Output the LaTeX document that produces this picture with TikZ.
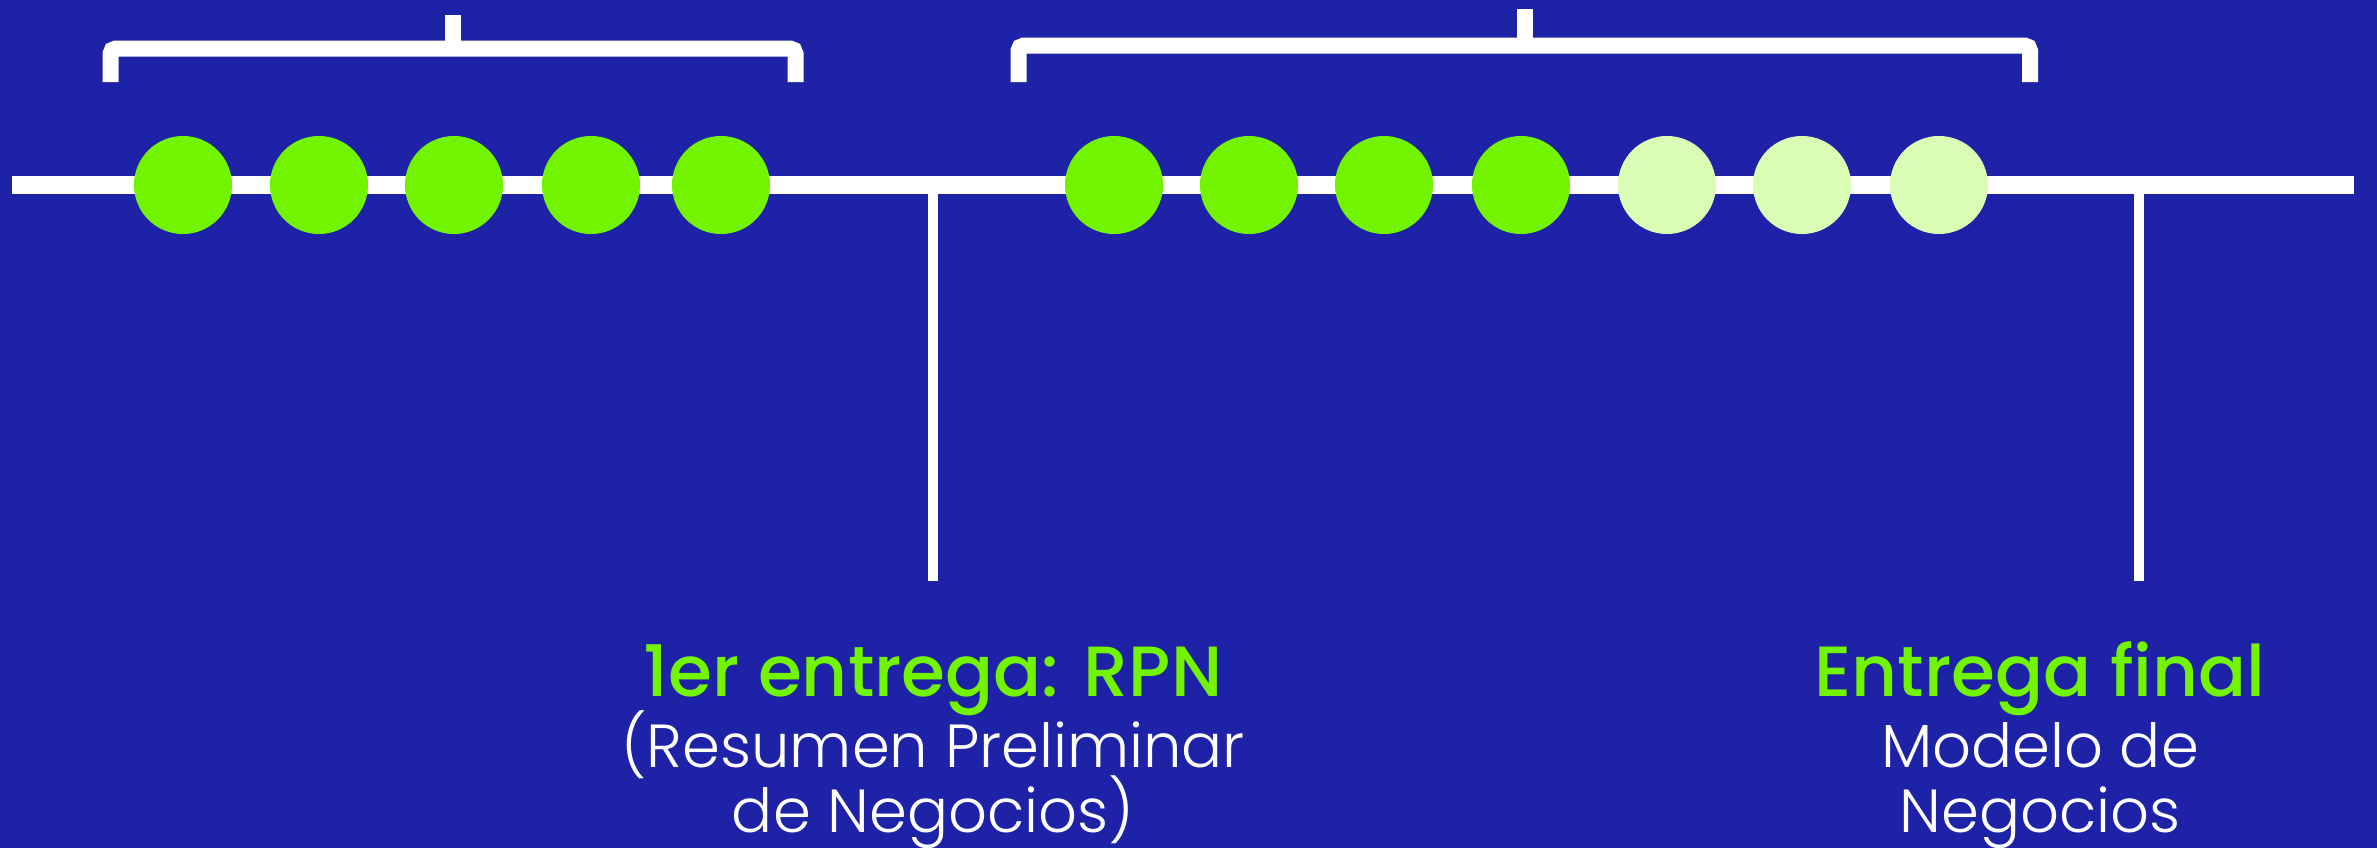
\documentclass[tikz,border=0pt]{standalone}
\usepackage{fontspec}
\setmainfont{Poppins}[UprightFont={* Light},BoldFont={* Medium}]
\definecolor{fondo}{RGB}{30,34,166}
\definecolor{verde}{RGB}{114,243,0}
\definecolor{verdeclaro}{RGB}{218,253,182}

\begin{document}
\begin{tikzpicture}[x=0.01cm,y=-0.01cm]

    \fill[fondo] (0,0) rectangle (2377,848);
    \useasboundingbox (0,0) rectangle (2377,848);

        \coordinate (ini) at (12,185);
        \coordinate (fin) at (2354,185);
        \coordinate (m1) at (933,185);
        \coordinate (m1b) at (933,581);
        \coordinate (m2) at (2139,185);
        \coordinate (m2b) at (2139,581);

        \begin{scope}[every edge/.style={draw=white,line width=5pt}]
            \path [-] (ini) edge node {} (fin);
            \path [-] (m1) edge [line width=2.85pt] node {} (m1b);
            \path [-] (m2) edge [line width=2.85pt] node {} (m2b);
        \end{scope}

        % llaves
        \coordinate (l1a) at (110.5,82);
        \coordinate (l1m) at (453,48.5);
        \coordinate (l1p) at (453,15);
        \coordinate (l1b) at (795.5,82);
        \coordinate (l2a) at (1018.5,82);
        \coordinate (l2m) at (1525,45.5);
        \coordinate (l2p) at (1525,9);
        \coordinate (l2b) at (2030,82);
        \begin{scope}[white,line width=4.55pt]
            \draw [rounded corners=1.5pt] (l1a) |- (l1m) -| (l1b);
            \draw (l1m) -- (l1p);
            \draw [rounded corners=1.5pt] (l2a) |- (l2m) -| (l2b);
            \draw (l2m) -- (l2p);
        \end{scope}

        \begin{scope}[every node/.style={circle,fill=verde,minimum size=0.98cm,inner sep=0pt}]
            \node (c1) at (183,185) {};
            \node (c2) at (319,185) {};
            \node (c3) at (454,185) {};
            \node (c4) at (591,185) {};
            \node (c5) at (721,185) {};
            \node (c6) at (1114,185) {};
            \node (c7) at (1249,185) {};
            \node (c8) at (1384,185) {};
            \node (c9) at (1521,185) {};
            \node [fill=verdeclaro] (c10) at (1667,185) {};
            \node [fill=verdeclaro] (c11) at (1802,185) {};
            \node [fill=verdeclaro] (c12) at (1939,185) {};
        \end{scope}

        \begin{scope}[every node/.style={anchor=base,inner sep=0pt,text=white,font=\fontsize{17.3}{20}\selectfont}]
            \node [text=verde,font=\fontsize{20.2}{24}\selectfont\bfseries] (e1) at (933,696) {1er entrega: RPN};
            \node (e1a) at (933,767) {(Resumen Preliminar};
            \node (e1b) at (933,832) {de Negocios)};
            \node [text=verde,font=\fontsize{20.2}{24}\selectfont\bfseries] (e2) at (2040,696) {Entrega final};
            \node (e2a) at (2040,767) {Modelo de};
            \node (e2b) at (2040,832) {Negocios};
        \end{scope}

\end{tikzpicture}
\end{document}
